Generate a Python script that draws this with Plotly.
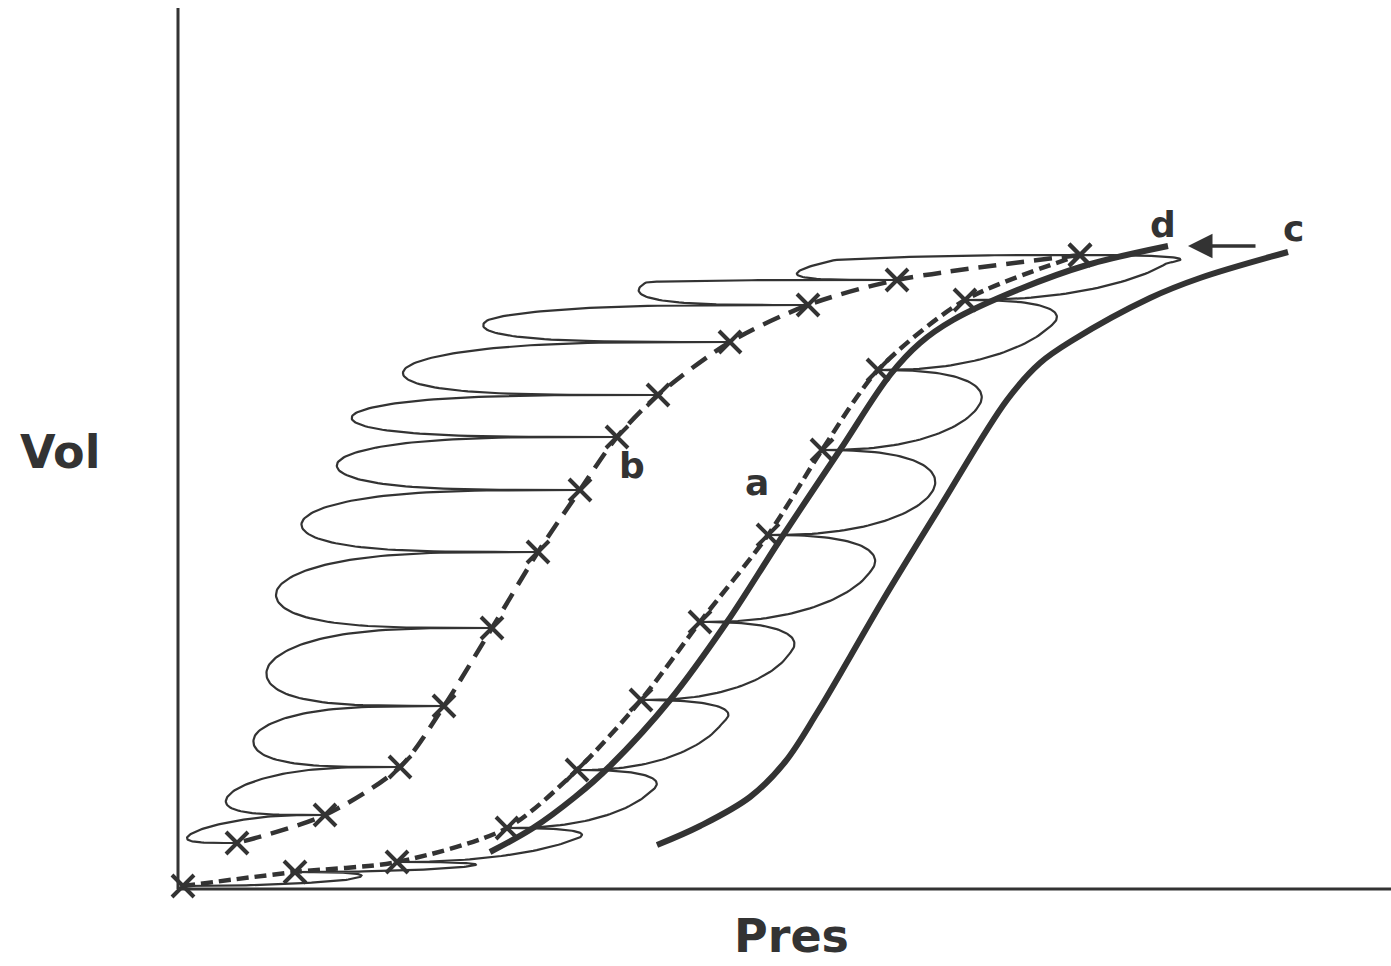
import numpy as np
import plotly.graph_objects as go

# Pressure (x) and volume (y), arbitrary units, origin at the axes corner.
# Inflation limb "a": pressure/volume at each step
infl_p = [0.5, 11.7, 21.9, 32.9, 39.9, 46.3, 52.2, 59.0, 64.4, 70.0, 78.7, 90.2]
infl_v = [0.2, 1.6, 2.6, 6.0, 11.8, 18.8, 26.6, 35.3, 43.8, 51.8, 58.8, 63.3]

# Deflation limb "b": pressure/volume at each step
defl_p = [90.2, 71.9, 63.0, 55.2, 48.0, 43.9, 40.2, 36.0, 31.4, 26.6, 22.2, 14.7, 5.9]
defl_v = [63.3, 60.8, 58.3, 54.6, 49.3, 45.1, 39.8, 33.6, 26.0, 18.2, 12.1, 7.3, 4.5]

# Tidal loops between consecutive inflation steps: far end of each loop
infl_loop_p = [16.7, 28.5, 38.9, 47.2, 54.5, 61.2, 69.2, 75.4, 80.0, 87.0, 98.9]
infl_loop_v = [0.8, 2.1, 4.6, 9.6, 16.6, 23.5, 31.6, 39.6, 48.1, 56.0, 62.5]

# Tidal loops between consecutive deflation steps: far end of each loop
defl_loop_p = [65.7, 46.9, 31.0, 22.9, 17.5, 16.0, 12.5, 10.0, 9.1, 7.8, 5.7, 2.7]
defl_loop_v = [62.8, 60.6, 56.8, 52.1, 47.3, 42.6, 36.8, 30.0, 22.3, 15.4, 9.8, 6.0]

# Static pressure-volume curves
curve_d_p = [31.2, 35.5, 39.7, 43.2, 49.2, 54.9, 60.2, 66.2, 71.2, 74.2, 77.5, 84.2, 90.9, 99.0]
curve_d_v = [3.6, 6.0, 9.1, 12.2, 18.8, 26.6, 34.8, 43.8, 51.3, 54.5, 56.8, 59.9, 62.3, 64.2]
curve_c_p = [47.9, 52.2, 57.2, 60.7, 63.9, 67.2, 70.5, 76.2, 82.9, 86.2, 89.5, 97.2, 102.2, 111.0]
curve_c_v = [4.3, 6.2, 9.1, 12.6, 17.5, 23.1, 28.8, 38.1, 48.8, 52.5, 54.8, 59.0, 61.0, 63.6]

INK = "#333333"


def tidal_loop(p0, v0, p1, v1, pt, vt, q, n=80):
    """Loop leaving (p0, v0), reaching (pt, vt) and returning to (p1, v1)."""
    s = np.linspace(0.0, np.pi, n)
    f = (1 - np.cos(s)) / 2
    reach = pt - (p0 + p1) / 2
    p = p0 + (p1 - p0) * f + reach * np.abs(np.sin(s)) ** q
    v = np.where(s <= np.pi / 2,
                 v0 + (vt - v0) * (1 - np.cos(s)),
                 vt + (v1 - vt) * (-np.cos(s)))
    return p, v


loop_p, loop_v = [], []
for i in range(len(infl_loop_p)):
    p, v = tidal_loop(infl_p[i], infl_v[i], infl_p[i + 1], infl_v[i + 1],
                      infl_loop_p[i], infl_loop_v[i], q=0.8)
    loop_p.append(p)
    loop_v.append(v)
for i in range(len(defl_loop_p)):
    p, v = tidal_loop(defl_p[i], defl_v[i], defl_p[i + 1], defl_v[i + 1],
                      defl_loop_p[i], defl_loop_v[i], q=0.55)
    loop_p.append(p)
    loop_v.append(v)
loop_p = np.concatenate(loop_p)
loop_v = np.concatenate(loop_v)

fig = go.Figure()

fig.add_trace(go.Scatter(x=loop_p, y=loop_v, mode="lines",
                         line=dict(color=INK, width=2.2), hoverinfo="skip"))

for cp, cv in ((curve_d_p, curve_d_v), (curve_c_p, curve_c_v)):
    fig.add_trace(go.Scatter(x=cp, y=cv, mode="lines",
                             line=dict(color=INK, width=6, shape="spline", smoothing=1.0)))

x_marker = dict(symbol="x-thin", size=22, color=INK, line=dict(width=4, color=INK))
fig.add_trace(go.Scatter(x=infl_p, y=infl_v, mode="lines+markers",
                         line=dict(color=INK, width=4.5, dash="12px,6px", shape="spline", smoothing=0.8),
                         marker=x_marker))
fig.add_trace(go.Scatter(x=defl_p, y=defl_v, mode="lines+markers",
                         line=dict(color=INK, width=4.5, dash="18px,10px", shape="spline", smoothing=0.8),
                         marker=x_marker))

# Axes drawn as plain lines
fig.add_shape(type="line", x0=0, y0=-0.1, x1=0, y1=88.0, line=dict(color=INK, width=3))
fig.add_shape(type="line", x0=0, y0=-0.1, x1=121.3, y1=-0.1, line=dict(color=INK, width=3))

label_font = dict(family="DejaVu Sans", size=46, color=INK, weight="bold")
curve_font = dict(family="DejaVu Sans", size=36, color=INK, weight="bold")
annotations = [
    dict(x=-11.8, y=43.6, text="Vol", font=label_font, yanchor="middle"),
    dict(x=61.3, y=-7.7, text="Pres", font=label_font, yanchor="bottom"),
    dict(x=98.5, y=66.4, text="d", font=curve_font, yanchor="middle"),
    dict(x=111.5, y=66.0, text="c", font=curve_font, yanchor="middle"),
    dict(x=57.9, y=40.6, text="a", font=curve_font, yanchor="middle"),
    dict(x=45.4, y=42.3, text="b", font=curve_font, yanchor="middle"),
]
for a in annotations:
    fig.add_annotation(xref="x", yref="y", showarrow=False, xanchor="center", **a)

# Arrow pointing from "c" towards "d"
fig.add_annotation(x=101.0, y=64.2, ax=107.9, ay=64.2, xref="x", yref="y",
                   axref="x", ayref="y", text="", showarrow=True,
                   arrowhead=2, arrowsize=1.4, arrowwidth=3.5, arrowcolor=INK)

fig.update_layout(
    width=1391, height=966,
    margin=dict(l=0, r=0, t=0, b=0),
    paper_bgcolor="white", plot_bgcolor="white",
    showlegend=False,
    xaxis=dict(range=[-17.8, 121.3], visible=False, fixedrange=True),
    yaxis=dict(range=[-7.8, 88.8], visible=False, fixedrange=True),
)

fig.write_html("out.html")
